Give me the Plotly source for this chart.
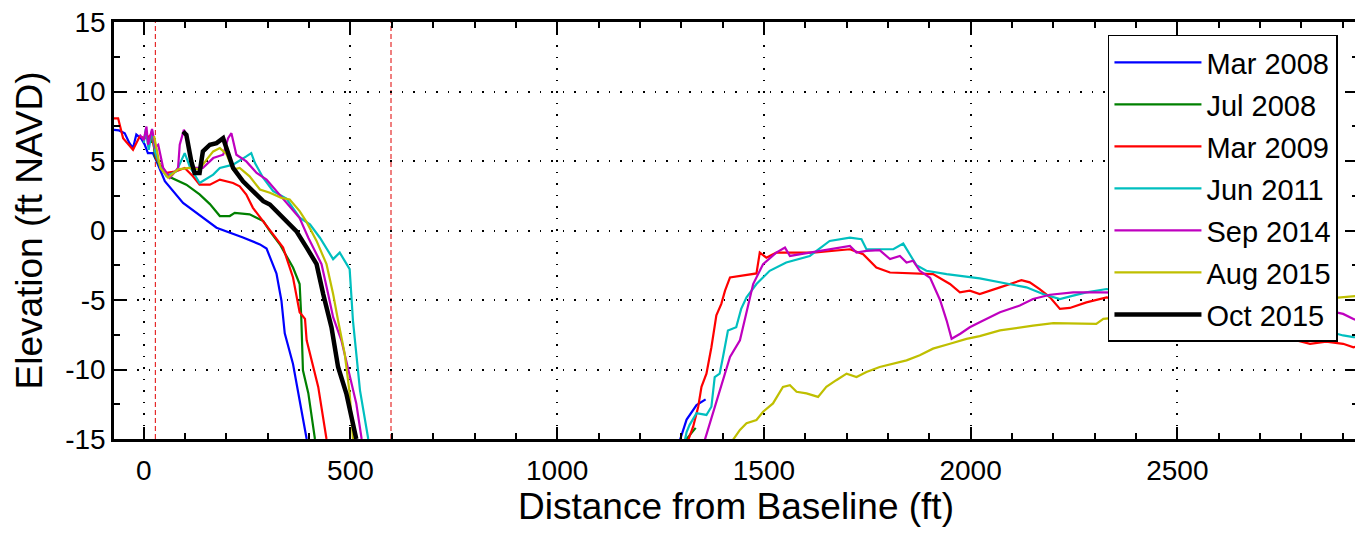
import plotly.graph_objects as go

# ---------------- data ----------------
series_names = ["Mar 2008", "Jul 2008", "Mar 2009", "Jun 2011", "Sep 2014", "Aug 2015", "Oct 2015"]

mar2008_x = [-72, -60, -46, -35, -26, -18, -6, 2, 10, 22, 31, 51, 95, 176, 240, 256, 281, 297, 321, 333, 341, 361, 377, 394,
             None, 1297, 1313, 1337, 1359]
mar2008_y = [7.24, 7.2, 7.0, 6.3, 5.93, 6.9, 6.6, 6.2, 5.57, 5.57, 4.97, 3.54, 1.99, 0.2, -0.5, -0.68, -1.0, -1.3, -3.1, -5.05, -7.4, -9.6, -12.2, -15,
             None, -15.07, -13.6, -12.56, -12.15]

jul2008_x = [18, 22, 27, 40, 59, 80, 103, 135, 160, 184, 208, 220, 256, 289, 305, 329, 361, 377, 381, 385, 398, 414,
             None, 1313, 1325, 1335]
jul2008_y = [6.3, 6.9, 5.3, 4.6, 3.9, 3.6, 3.3, 2.6, 1.9, 1.04, 1.04, 1.27, 1.16, 0.68, -0.04, -0.99, -2.66, -3.85, -6.24, -10.06, -11.7, -15,
             None, -15, -14.6, -14.2]

mar2009_x = [-72, -62, -50, -26, -10, 6.5, 18.5, 31, 55, 79, 99, 119, 135, 160, 184, 216, 232, 248, 264, 289, 313, 337, 361, 377, 390, 394, 422, 442,
             None, 1317, 1329, 1341, 1349, 1361, 1373, 1385, 1397, 1406, 1418, 1482, 1490, 1506, 1530, 1619, 1667, 1708, 1740, 1772, 1805,
             1869, 1909, 1950, 1974, 1998, 2022, 2071, 2095, 2123, 2143, 2167, 2192, 2216, 2240, 2280, 2329,
             2450, 2600, 2750, 2821, 2860, 2901, 2926, 2937]
mar2009_y = [8.07, 8.07, 6.64, 5.81, 6.76, 6.64, 6.9, 5.1, 4.14, 4.26, 4.5, 3.9, 3.3, 3.3, 3.66, 3.42, 3.18, 2.59, 1.63, 0.68, -0.27, -1.23, -3.38, -5.88, -6.36, -7.9, -11.25, -15,
             None, -15.07, -14.1, -12.7, -11.25, -10.3, -8.4, -6.1, -5.28, -4.33, -3.38, -3.09, -1.59, -1.95, -1.59, -1.59, -1.47, -1.35, -1.7, -2.66, -3.02,
             -3.09, -3.14, -3.85, -4.45, -4.33, -4.57, -4.09, -3.85, -3.57, -3.73, -4.21, -4.81, -5.64, -5.57, -5.17, -4.81,
             -5.5, -6.5, -7.6, -8.15, -8.0, -8.15, -8.4, -8.3]

jun2011_x = [0, 5, 12, 20, 28, 40, 55, 79, 99, 111, 135, 168, 184, 216, 248, 260, 269, 289, 313, 345, 377, 402, 426, 458, 474, 498, 506, 523, 543,
             None, 1309, 1313, 1320, 1337, 1361, 1373, 1381, 1393, 1401, 1409, 1413, 1433, 1445, 1458, 1482, 1514, 1554, 1611, 1659, 1708, 1736, 1748,
             1813, 1837, 1869, 1893, 1942, 2022, 2071, 2135, 2175, 2216, 2248, 2280, 2329, 2450, 2600, 2750, 2870, 2901, 2926, 2937]
jun2011_y = [6.3, 7.3, 5.8, 7.2, 5.6, 4.6, 3.9, 4.26, 5.57, 4.62, 3.42, 4.02, 4.5, 4.74, 5.33, 5.57, 4.85, 3.78, 2.83, 2.3, 0.92, 0.44, -0.52, -2.06, -1.59, -2.78, -6.48, -11.5, -15,
             None, -15.07, -14.5, -14.0, -13.15, -13.27, -12.68, -10.54, -10.3, -9.1, -7.67, -7.2, -6.96, -5.64, -4.81, -3.85, -2.9, -2.3, -1.83, -0.75, -0.52, -0.63, -1.35,
             -1.35, -0.94, -2.5, -2.9, -3.14, -3.45, -3.73, -4.09, -4.57, -4.93, -4.69, -4.45, -4.21, -4.8, -5.6, -6.5, -7.3, -7.55, -7.67, -7.7]

sep2014_x = [-10, 0, 6.5, 10.5, 20, 28, 35, 47, 63, 83, 87, 97, 103, 119, 143, 168, 192, 204, 212, 224, 248, 273, 297, 321, 345, 361, 377, 398, 430, 446, 458, 478, 498, 514, 527,
             None, 1357, 1377, 1401, 1418, 1442, 1458, 1474, 1498, 1530, 1551, 1563, 1611, 1659, 1708, 1724, 1748, 1780, 1805, 1829, 1845, 1861, 1877, 1902,
             1926, 1942, 1954, 1975, 1998, 2022, 2071, 2119, 2151, 2192, 2248, 2313, 2450, 2600, 2750, 2870, 2901, 2926, 2937]
sep2014_y = [6.9, 6.5, 7.48, 6.17, 7.3, 6.0, 6.17, 4.5, 3.78, 4.5, 6.17, 7.24, 6.9, 4.5, 4.5, 5.21, 5.45, 6.64, 7.0, 5.45, 4.97, 4.14, 3.66, 2.83, 2.0, 1.4, 0.9, -0.52, -2.42, -4.57, -6.24, -7.9, -10.3, -12.44, -15,
             None, -15.07, -13.15, -10.77, -9.1, -7.9, -5.76, -3.85, -2.42, -1.59, -1.23, -1.83, -1.59, -1.35, -1.11, -1.59, -1.47, -1.42, -2.06, -1.83, -2.3, -2.18, -2.9, -3.4,
             -5.0, -6.48, -7.79, -7.43, -6.96, -6.6, -5.88, -5.4, -4.93, -4.62, -4.45, -4.45, -4.5, -4.8, -5.3, -5.8, -6.0, -6.36, -6.5]

aug2015_x = [25, 40, 59, 83, 110, 135, 152, 168, 184, 200, 216, 232, 256, 281, 305, 333, 353, 377, 394, 418, 442, 458, 470, 486, 498, 506,
             None, 1425, 1442, 1458, 1482, 1498, 1522, 1546, 1563, 1579, 1603, 1631, 1651, 1675, 1700, 1724, 1748, 1780, 1813, 1845, 1877,
             1909, 1950, 1990, 2022, 2071, 2151, 2200, 2304, 2321, 2450, 2600, 2750, 2870, 2909, 2926, 2937]
aug2015_y = [6.8, 4.5, 3.8, 4.4, 4.5, 4.4, 5.1, 5.69, 5.93, 5.5, 4.38, 4.5, 3.9, 2.95, 2.71, 2.35, 2.23, 1.4, 0.6, -0.75, -2.42, -4.57, -6.48, -8.86, -11.7, -15,
             None, -15.07, -14.35, -13.87, -13.63, -13.04, -12.44, -11.25, -11.13, -11.6, -11.72, -11.97, -11.25, -10.77, -10.3, -10.54, -10.18, -9.82, -9.58, -9.34, -8.98,
             -8.5, -8.15, -7.8, -7.6, -7.19, -6.84, -6.67, -6.72, -6.36, -6.0, -5.6, -5.2, -4.9, -4.81, -4.76, -4.7]

oct2015_x = [95, 103, 115, 123, 135, 143, 160, 176, 192, 200, 216, 240, 256, 273, 289, 305, 321, 337, 361, 369, 394, 418, 434, 454, 470, 490, 514]
oct2015_y = [7.12, 6.88, 4.97, 4.14, 4.14, 5.69, 6.17, 6.29, 6.64, 5.93, 4.5, 3.54, 3.06, 2.6, 2.11, 1.87, 1.4, 1.0, 0.2, -0.04, -1.23, -2.42, -4.57, -6.96, -9.82, -11.73, -15]

boundary_x = [28, 598]          # red dashed reference lines
x_range = [-72, 2937]
y_range = [-15, 15]
x_tick_step = 500
y_tick_vals = [-15, -10, -5, 0, 5, 10, 15]
y_tick_text = ["-15", "-10", "-5", "0", "5", "10", "15"]

# ---------------- style ----------------
colors = ["#0000ff", "#008000", "#ff0000", "#00bfbf", "#bf00bf", "#bfbf00", "#000000"]
widths = [2.2, 2.2, 2.2, 2.2, 2.2, 2.2, 4.5]
FONT = "Liberation Sans, Arial, sans-serif"

xs = [mar2008_x, jul2008_x, mar2009_x, jun2011_x, sep2014_x, aug2015_x, oct2015_x]
ys = [mar2008_y, jul2008_y, mar2009_y, jun2011_y, sep2014_y, aug2015_y, oct2015_y]

fig = go.Figure()
for name, x, y, c, w in zip(series_names, xs, ys, colors, widths):
    fig.add_trace(go.Scatter(x=x, y=y, name="<span style='font-size:29px'>%s</span>" % name,
                             mode="lines", line=dict(color=c, width=w), connectgaps=False))

for bx in boundary_x:
    fig.add_vline(x=bx, line=dict(color="#e00000", width=1, dash="5px,3px"), layer="below")

axis_common = dict(
    showline=True, linecolor="black", linewidth=2.5, mirror="ticks",
    ticks="inside", ticklen=12, tickwidth=2, tickcolor="black",
    showgrid=True, gridcolor="black", gridwidth=1.5, griddash="1.5px,10px",
    zeroline=False, layer="above traces", ticklabeloverflow="allow",
    tickfont=dict(family=FONT, size=28, color="black"),
)

fig.update_xaxes(range=x_range, tick0=0, dtick=x_tick_step, ticklabelstandoff=5,
                 minor=dict(dtick=100, ticks="inside", ticklen=6, tickwidth=2, tickcolor="black", showgrid=False),
                 title=dict(text="Distance from Baseline (ft)", font=dict(family=FONT, size=37, color="black"), standoff=0),
                 **axis_common)
fig.update_yaxes(range=y_range, tickmode="array", tickvals=y_tick_vals, ticktext=y_tick_text,
                 minor=dict(dtick=2.5, ticks="inside", ticklen=6, tickwidth=2, tickcolor="black", showgrid=False),
                 title=dict(text="Elevation (ft NAVD)", font=dict(family=FONT, size=37, color="black"), standoff=12),
                 **axis_common)

# page body has an 8px default margin, so the figure is 8px smaller than the window
fig.update_layout(
    width=1355, height=531,
    margin=dict(l=106, r=5, t=14, b=100, autoexpand=False),
    paper_bgcolor="white", plot_bgcolor="white",
    font=dict(family=FONT, color="black"),
    legend=dict(x=0.799, y=0.969, xanchor="left", yanchor="top",
                bgcolor="white", bordercolor="black", borderwidth=1.5,
                font=dict(family=FONT, size=30, color="black"),
                tracegroupgap=0, itemwidth=87),
    showlegend=True,
)

fig.write_html("out.html")
